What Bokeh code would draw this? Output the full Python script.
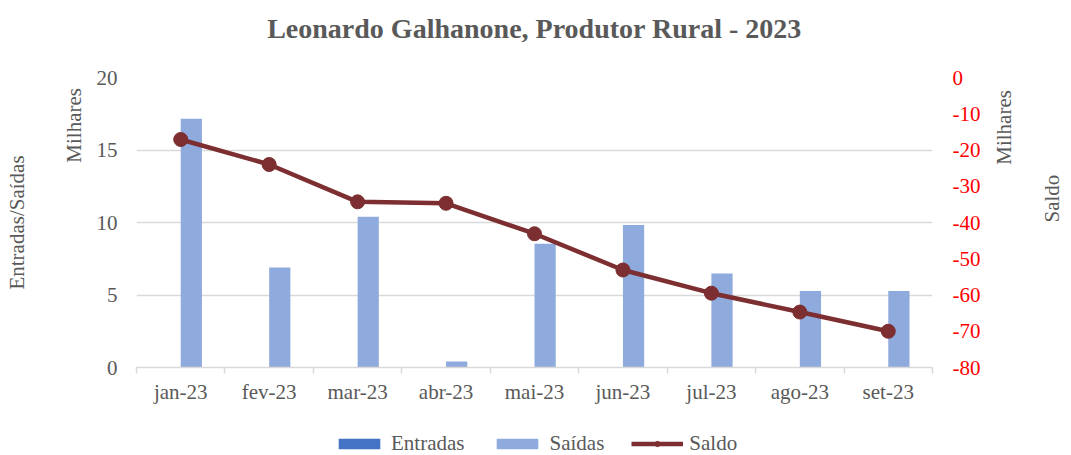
from math import pi
from bokeh.plotting import figure
from bokeh.layouts import column
from bokeh.models import (Range1d, LinearAxis, FixedTicker, Legend, LegendItem, Title,
                          ColumnDataSource)
from bokeh.transform import dodge
from bokeh.embed import file_html
from bokeh.resources import INLINE

# ---- data (values in thousands) ----
months = ["jan-23", "fev-23", "mar-23", "abr-23", "mai-23", "jun-23", "jul-23", "ago-23", "set-23"]
entradas = [0, 0, 0, 0, 0, 0, 0, 0, 0]
saidas = [17.15, 6.9, 10.4, 0.42, 8.53, 9.82, 6.48, 5.27, 5.27]
saldo = [-17.1, -24.0, -34.3, -34.7, -43.1, -53.1, -59.5, -64.7, -70.0]
left_ticks = [0, 5, 10, 15, 20]
right_ticks = [-80, -70, -60, -50, -40, -30, -20, -10, 0]

FONT = "Liberation Serif"
FS = "21px"
GRAY = "#595959"
GRID = "#d9d9d9"
C_ENT = "#4472c4"
C_SAI = "#8faadc"
C_SAL = "#7c2e30"
PAD_L = "\u00a0" * 37  # pushes the left 'Milhares' toward the top of the axis
PAD_R = "\u00a0" * 11  # same for the right one (anchored at its start)

n = len(months)
xpos = [i + 0.5 for i in range(n)]  # category centres
bounds = list(range(n + 1))          # category boundaries
src = ColumnDataSource(dict(x=xpos, months=months, entradas=entradas,
                            saidas=saidas, saldo=saldo))

p = figure(x_range=Range1d(0, n), y_range=Range1d(0, 20),
           frame_width=796, frame_height=290, output_backend="svg", toolbar_location=None,
           x_axis_location=None,
           min_border_left=136, min_border_right=139, min_border_top=77, min_border_bottom=38)
p.outline_line_color = None
p.extra_y_ranges = {"saldo": Range1d(-80, 0)}

# title (outermost) with a small spacer between it and the frame
p.title.text = "Leonardo Galhanone, Produtor Rural - 2023"
p.title.text_font = FONT
p.title.text_font_size = "28px"
p.title.text_font_style = "bold"
p.title.text_color = GRAY
p.title.align = "center"
p.title.offset = 6
p.add_layout(Title(text="\u00a0", text_font_size="16px"), "above")


def style_text_axis(ax):
    ax.axis_line_color = None
    ax.major_tick_line_color = None
    ax.minor_tick_line_color = None
    ax.major_tick_out = 0
    ax.major_tick_in = 0
    ax.major_label_text_font = FONT
    ax.major_label_text_font_size = FS
    ax.major_label_text_color = GRAY
    ax.axis_label_text_font = FONT
    ax.axis_label_text_font_size = FS
    ax.axis_label_text_font_style = "normal"
    ax.axis_label_text_color = GRAY


def read_upward(ax):
    try:
        ax.axis_label_orientation = pi / 2
    except Exception:
        ax.axis_label_orientation = "vertical"


# grid
p.xgrid.visible = False
p.ygrid.ticker = FixedTicker(ticks=left_ticks)
p.ygrid.grid_line_color = GRID
p.ygrid.grid_line_width = 1.5

# left axis (values)
ya = p.yaxis[0]
ya.ticker = FixedTicker(ticks=left_ticks)
style_text_axis(ya)
ya.major_label_standoff = 19
ya.axis_label = PAD_L + "Milhares"
ya.axis_label_standoff = 8

# outer left axis (title only)
ya2 = LinearAxis(ticker=FixedTicker(ticks=[]))
style_text_axis(ya2)
ya2.major_label_standoff = 0
ya2.axis_label = "Entradas/Saídas"
ya2.axis_label_standoff = 30
p.add_layout(ya2, "left")

# right axis (saldo)
ra = LinearAxis(y_range_name="saldo", ticker=FixedTicker(ticks=right_ticks),
                major_label_overrides={t: str(t) for t in right_ticks})
style_text_axis(ra)
ra.major_label_text_color = "#ff0000"
ra.major_label_standoff = 20
ra.axis_label = PAD_R + "Milhares"
read_upward(ra)
ra.axis_label_standoff = 21
p.add_layout(ra, "right")

ra2 = LinearAxis(y_range_name="saldo", ticker=FixedTicker(ticks=[]))
style_text_axis(ra2)
ra2.major_label_standoff = 0
ra2.axis_label = "Saldo"
read_upward(ra2)
ra2.axis_label_standoff = 20
p.add_layout(ra2, "right")

# bottom tick axis (ticks at category boundaries, no labels)
ta = LinearAxis(ticker=FixedTicker(ticks=bounds),
                major_label_overrides={b: "" for b in bounds})
ta.axis_line_color = GRID
ta.axis_line_width = 1.5
ta.major_tick_line_color = GRID
ta.major_tick_line_width = 1.5
ta.major_tick_out = 6
ta.major_tick_in = 0
ta.minor_tick_line_color = None
ta.major_label_text_font_size = "2px"
ta.major_label_standoff = 0
p.add_layout(ta, "below")

# bottom label axis (month names at category centres)
ca = LinearAxis(ticker=FixedTicker(ticks=xpos),
                major_label_overrides={x: m for x, m in zip(xpos, months)})
style_text_axis(ca)
ca.major_label_standoff = 6
p.add_layout(ca, "below")

# bars
p.vbar(x=dodge("x", -0.12), top="entradas", width=0.24,
       source=src, fill_color=C_ENT, line_color=None)
p.vbar(x=dodge("x", 0.12), top="saidas", width=0.24,
       source=src, fill_color=C_SAI, line_color=None)

# saldo line
p.line(x="x", y="saldo", source=src, y_range_name="saldo",
       line_color=C_SAL, line_width=4.5)
p.circle(x="x", y="saldo", source=src, y_range_name="saldo",
         radius=7, radius_units="screen", fill_color=C_SAL, line_color=C_SAL)

# ---- legend strip (renderers share the data but lie outside its ranges) ----
lf = figure(width=1071, height=50, x_range=Range1d(100, 101), y_range=Range1d(100, 101),
            output_backend="svg", toolbar_location=None,
            min_border=0, x_axis_location=None, y_axis_location=None)
lf.outline_line_color = None
lf.xgrid.visible = False
lf.ygrid.visible = False
l_ent = lf.vbar(x="x", top="entradas", width=0.24, source=src, fill_color=C_ENT, line_color=None)
l_sai = lf.vbar(x="x", top="saidas", width=0.24, source=src, fill_color=C_SAI, line_color=None)
l_line = lf.line(x="x", y="saldo", source=src, line_color=C_SAL, line_width=4.5)
l_pts = lf.circle(x="x", y="saldo", source=src, radius=7, radius_units="screen",
                  fill_color=C_SAL, line_color=C_SAL)

legend = Legend(items=[LegendItem(label="Entradas", renderers=[l_ent], index=0),
                       LegendItem(label="Saídas", renderers=[l_sai], index=0),
                       LegendItem(label="Saldo", renderers=[l_line, l_pts], index=0)],
                orientation="horizontal", location=(197, 0),
                glyph_width=52, glyph_height=13, label_standoff=6, spacing=27,
                label_text_font=FONT, label_text_font_size=FS, label_text_color=GRAY,
                border_line_color=None, background_fill_alpha=0, margin=0, padding=0)
lf.add_layout(legend, "center")

layout = column(p, lf, spacing=0)
open("out.html", "w").write(file_html(layout, INLINE))
